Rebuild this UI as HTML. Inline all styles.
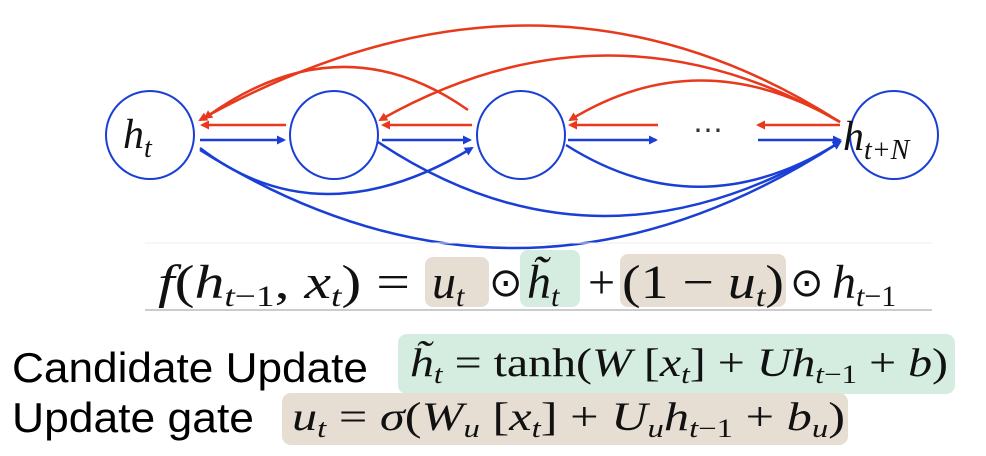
<!DOCTYPE html>
<html><head><meta charset="utf-8"><style>
body{margin:0;background:#fff;width:986px;height:456px;overflow:hidden;position:relative}
</style></head><body>
<svg width="986" height="456" style="position:absolute;left:0;top:0" font-family="Liberation Serif, serif">
<defs>
<marker id="ar" markerWidth="9" markerHeight="9" refX="7" refY="4.5" orient="auto" markerUnits="userSpaceOnUse"><path d="M0,0 L9,4.5 L0,9z" fill="#e8391c"/></marker>
<marker id="ab" markerWidth="9" markerHeight="9" refX="7" refY="4.5" orient="auto" markerUnits="userSpaceOnUse"><path d="M0,0 L9,4.5 L0,9z" fill="#1a3fd6"/></marker>
</defs>
<g fill="none" stroke="#1a3fd6" stroke-width="2">
<circle cx="150" cy="135" r="44"/>
<circle cx="334" cy="135" r="44"/>
<circle cx="521" cy="135" r="44"/>
<circle cx="894" cy="135" r="44"/>
</g>
<g fill="none" stroke="#e8391c" stroke-width="2.5" marker-end="url(#ar)">
<path d="M286,125 L202,125"/><path d="M472,125 L383,125"/><path d="M658,125 L570,125"/><path d="M840,125 L758,125"/>
<path d="M840,122 Q540,-70 200,120"/>
<path d="M840,122 Q610,-10 380,120"/>
<path d="M840,122 Q700,40 570,120"/>
<path d="M468,110 Q340,20 205,118"/>
</g>
<g fill="none" stroke="#1a3fd6" stroke-width="2.5" marker-end="url(#ab)">
<path d="M200,140 L284,140"/><path d="M382,140 L470,140"/><path d="M568,140 L656,140"/><path d="M758,140 L840,140"/>
<path d="M200,148 Q320,240 472,148"/>
<path d="M200,150 Q520,350 840,142"/>
<path d="M378,142 Q600,290 840,142"/>
<path d="M566,145 Q700,230 840,142"/>
</g>
<text x="693" y="140" font-size="30" fill="#333">⋯</text>
<text x="123" y="148" font-style="italic" font-size="42" fill="#111">h<tspan font-size="28" dy="9">t</tspan></text>
<text x="843" y="150" font-style="italic" font-size="42" fill="#111">h<tspan font-size="28" dy="9">t+N</tspan></text>
<line x1="145" y1="243" x2="932" y2="243" stroke="#eee" stroke-width="1"/>
<line x1="145" y1="310" x2="932" y2="310" stroke="#bbb" stroke-width="1.5"/>

<rect x="425" y="257" width="64" height="50" rx="8" fill="#e6ddd3"/>
<rect x="520" y="250" width="60" height="57" rx="8" fill="#d4ede0"/>
<rect x="620" y="254" width="166" height="53" rx="8" fill="#e6ddd3"/>
<g font-size="48" fill="#111">
<text x="158" y="298" textLength="252" lengthAdjust="spacingAndGlyphs"><tspan font-style="italic">f</tspan>(<tspan font-style="italic">h</tspan><tspan font-size="30" dy="8"><tspan font-style="italic">t</tspan>−1</tspan><tspan dy="-8">, </tspan><tspan font-style="italic">x</tspan><tspan font-size="30" dy="8" font-style="italic">t</tspan><tspan dy="-8">) =</tspan></text>
<text x="432" y="298" font-style="italic">u<tspan font-size="30" dy="8">t</tspan></text>
<text x="489" y="296" font-size="40">⊙</text>
<text x="527" y="298" font-style="italic">h̃<tspan font-size="30" dy="8">t</tspan></text>
<text x="588" y="298">+</text>
<text x="622" y="298" textLength="162" lengthAdjust="spacingAndGlyphs">(1 − <tspan font-style="italic">u</tspan><tspan font-size="30" dy="8" font-style="italic">t</tspan><tspan dy="-8">)</tspan></text>
<text x="790" y="296" font-size="40">⊙</text>
<text x="832" y="298" font-style="italic">h<tspan font-size="30" dy="8"><tspan font-style="italic">t</tspan><tspan font-style="normal">−1</tspan></tspan></text>
</g>

<rect x="398" y="334" width="557" height="60" rx="9" fill="#d4ede0"/>
<rect x="282" y="393" width="566" height="52" rx="9" fill="#e6ddd3"/>
<text x="12" y="382" font-family="Liberation Sans, sans-serif" font-size="42" textLength="356" lengthAdjust="spacingAndGlyphs" fill="#000">Candidate Update</text>
<text x="12" y="432" font-family="Liberation Sans, sans-serif" font-size="42" textLength="242" lengthAdjust="spacingAndGlyphs" fill="#000">Update gate</text>
<text x="410" y="376" font-size="40" fill="#111" textLength="538" lengthAdjust="spacingAndGlyphs"><tspan font-style="italic">h̃</tspan><tspan font-size="26" dy="7" font-style="italic">t</tspan><tspan dy="-7"> = tanh(</tspan><tspan font-style="italic">W</tspan> [<tspan font-style="italic">x</tspan><tspan font-size="26" dy="7" font-style="italic">t</tspan><tspan dy="-7">] + </tspan><tspan font-style="italic">Uh</tspan><tspan font-size="26" dy="7"><tspan font-style="italic">t</tspan>−1</tspan><tspan dy="-7"> + </tspan><tspan font-style="italic">b</tspan>)</text>
<text x="292" y="430" font-size="40" fill="#111" textLength="553" lengthAdjust="spacingAndGlyphs"><tspan font-style="italic">u</tspan><tspan font-size="26" dy="7" font-style="italic">t</tspan><tspan dy="-7"> = </tspan><tspan font-style="italic">σ</tspan>(<tspan font-style="italic">W</tspan><tspan font-size="26" dy="7" font-style="italic">u</tspan><tspan dy="-7"> [</tspan><tspan font-style="italic">x</tspan><tspan font-size="26" dy="7" font-style="italic">t</tspan><tspan dy="-7">] + </tspan><tspan font-style="italic">U</tspan><tspan font-size="26" dy="7" font-style="italic">u</tspan><tspan dy="-7" font-style="italic">h</tspan><tspan font-size="26" dy="7"><tspan font-style="italic">t</tspan>−1</tspan><tspan dy="-7"> + </tspan><tspan font-style="italic">b</tspan><tspan font-size="26" dy="7" font-style="italic">u</tspan><tspan dy="-7">)</tspan></text>
</svg>
</body></html>
